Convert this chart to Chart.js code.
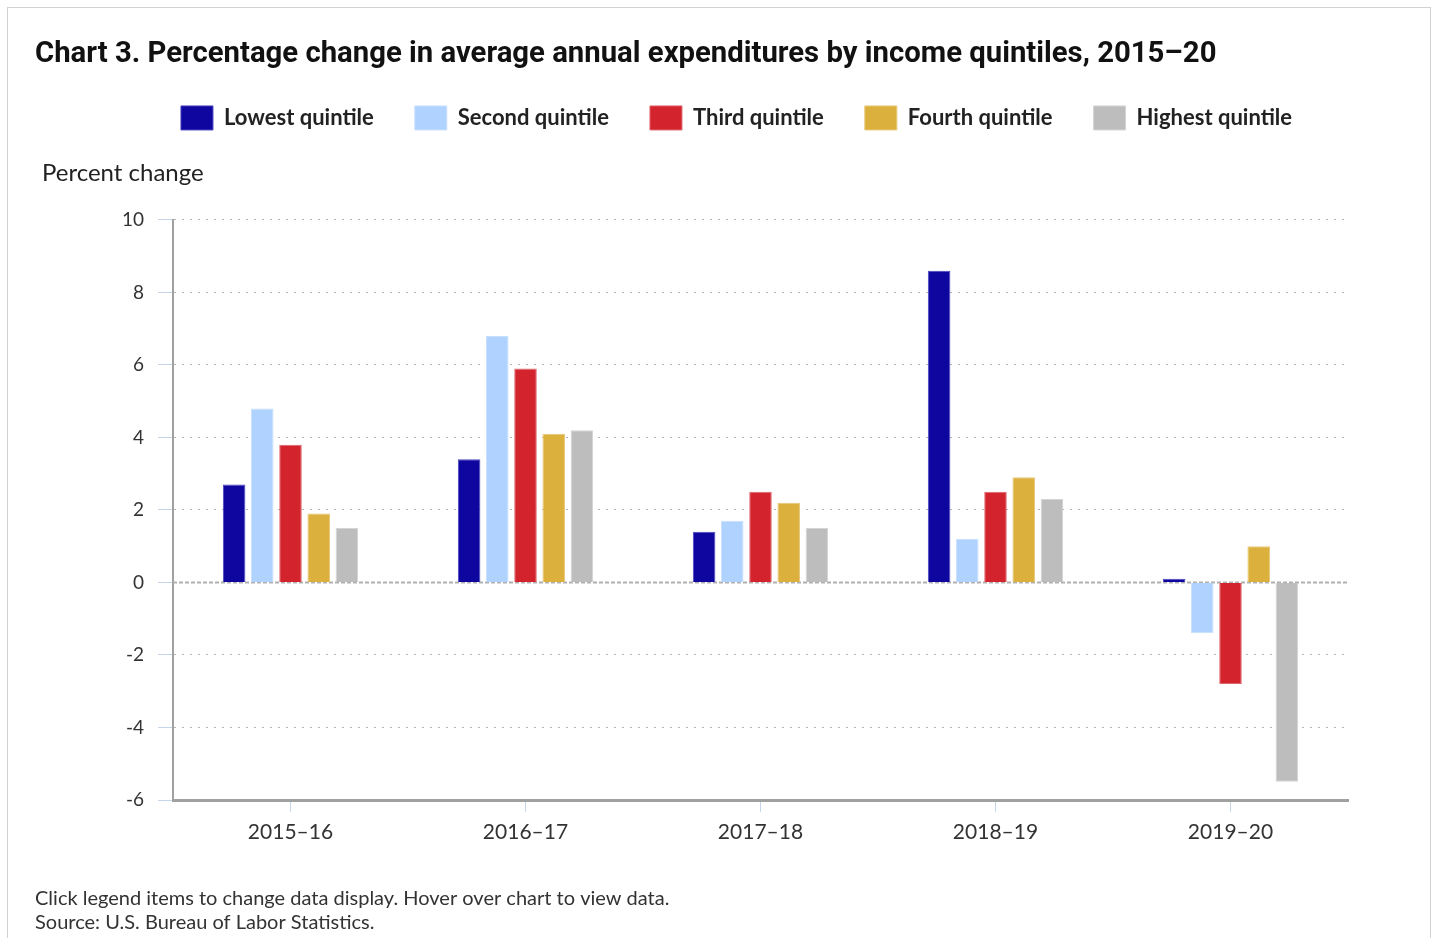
<!DOCTYPE html>
<html>
<head>
<meta charset="utf-8">
<title>Chart 3</title>
<script src="https://cdn.jsdelivr.net/npm/chart.js@4/dist/chart.umd.min.js"></script>
<style>
	html, body { margin: 0; padding: 0; background: #fff; }
	#frame { position: absolute; left: 7px; top: 7px; width: 1422px; height: 960px; border: 1px solid #d2d2d2; }
	#holder { position: absolute; left: 0; top: 0; width: 1433px; height: 938px; }
</style>
</head>
<body>
<div id="frame"></div>
<div id="holder"><canvas id="mycanvas" width="1433" height="938"></canvas></div>
<script>
var Periods = ["2015–16", "2016–17", "2017–18", "2018–19", "2019–20"];
var Lowest = [2.7, 3.4, 1.4, 8.6, 0.1];
var Second = [4.8, 6.8, 1.7, 1.2, -1.4];
var Third = [3.8, 5.9, 2.5, 2.5, -2.8];
var Fourth = [1.9, 4.1, 2.2, 2.9, 1.0];
var Highest = [1.5, 4.2, 1.5, 2.3, -5.5];
var yMin = -6, yMax = 10, yStep = 2;

var chartTitle = "Chart 3. Percentage change in average annual expenditures by income quintiles, 2015–20";
var yLabel = "Percent change";
var notes = [
	"Click legend items to change data display. Hover over chart to view data.",
	"Source: U.S. Bureau of Labor Statistics."
];

var bodyFont = "Lato, 'Open Sans', sans-serif";

function bars(label, color, edge, data) {
	return {
		label: label,
		backgroundColor: color,
		borderColor: edge,
		borderWidth: 1,
		data: data
	};
}

var chartdata = {
	labels: Periods,
	datasets: [
		bars("Lowest quintile", "#0f06a0", "#4a44c0", Lowest),
		bars("Second quintile", "#b0d2fe", "#c8e0ff", Second),
		bars("Third quintile", "#d3232c", "#e0676d", Third),
		bars("Fourth quintile", "#dcb03c", "#e8c878", Fourth),
		bars("Highest quintile", "#bdbdbd", "#d4d4d4", Highest)
	]
};

// extra room under the legend for the axis caption
var legendRoom = {
	id: "legendRoom",
	beforeInit: function(chart) {
		var fit = chart.legend.fit;
		chart.legend.fit = function() {
			fit.bind(chart.legend)();
			this.height += 72;
		};
	},
	afterLayout: function(chart) {
		var lg = chart.legend;
		lg.left += 45; lg.right += 45;
		lg.top -= 8; lg.bottom -= 8;
	}
};

var extras = {
	id: "extras",
	beforeDatasetsDraw: function(chart) {
		var c = chart.ctx, a = chart.chartArea;
		var y0 = chart.scales.y.getPixelForValue(0);
		c.save();
		c.strokeStyle = "#b0b0b0";
		c.lineWidth = 2;
		c.setLineDash([4, 2]);
		c.beginPath();
		c.moveTo(a.left, y0);
		c.lineTo(a.right, y0);
		c.stroke();
		c.restore();
	},
	afterDraw: function(chart) {
		var c = chart.ctx, a = chart.chartArea;
		c.save();
		c.fillStyle = "#222";
		c.textBaseline = "middle";
		c.textAlign = "left";
		c.font = "24px " + bodyFont;
		c.fillText(yLabel, a.left - 131, a.top - 47);
		c.fillStyle = "#333";
		c.font = "20px " + bodyFont;
		c.fillText(notes[0], 35, 899);
		c.fillText(notes[1], 35, 923);
		c.restore();
	}
};

var ctx = document.getElementById("mycanvas");

var BarGraph = new Chart(ctx, {
	type: "bar",
	data: chartdata,
	plugins: [legendRoom, extras],
	options: {
		responsive: false,
		animation: false,
		devicePixelRatio: 1,
		layout: { padding: { left: 35, right: 85, top: 37, bottom: 88 } },
		datasets: { bar: { categoryPercentage: 0.6, barPercentage: 0.8 } },
		plugins: {
			title: {
				display: true,
				text: chartTitle,
				align: "start",
				color: "#111",
				padding: { top: 0, bottom: 0 },
				font: { family: "'Liberation Sans Narrow', 'Arial Narrow', Roboto, sans-serif", size: 29.3, weight: "bold", lineHeight: 1.227 }
			},
			legend: {
				display: true,
				position: "top",
				labels: {
					boxWidth: 32,
					boxHeight: 24,
					padding: 41,
					color: "#222",
					font: { family: bodyFont, size: 22, weight: "bold" }
				}
			},
			tooltip: { enabled: false }
		},
		scales: {
			x: {
				afterFit: function(scale) { scale.height = 50; },
				grid: {
					offset: false,
					drawOnChartArea: false,
					drawTicks: true,
					tickLength: 12,
					tickColor: "#c5d5ea"
				},
				border: { display: true, color: "#a0a0a0", width: 3 },
				ticks: {
					padding: 8,
					color: "#333",
					font: { family: bodyFont, size: 21 }
				}
			},
			y: {
				min: yMin,
				max: yMax,
				afterFit: function(scale) { scale.width = 138; },
				grid: {
					color: function(c) { return c.tick && c.tick.value === 0 ? "rgba(0,0,0,0)" : "#b4b4b4"; },
					lineWidth: 1,
					drawTicks: true,
					tickLength: 15,
					tickColor: "#c5d5ea"
				},
				border: { display: true, color: "#a0a0a0", width: 2, dash: [2, 6] },
				ticks: {
					stepSize: yStep,
					padding: 14,
					color: "#333",
					font: { family: bodyFont, size: 19 }
				}
			}
		}
	}
});
</script>
</body>
</html>
